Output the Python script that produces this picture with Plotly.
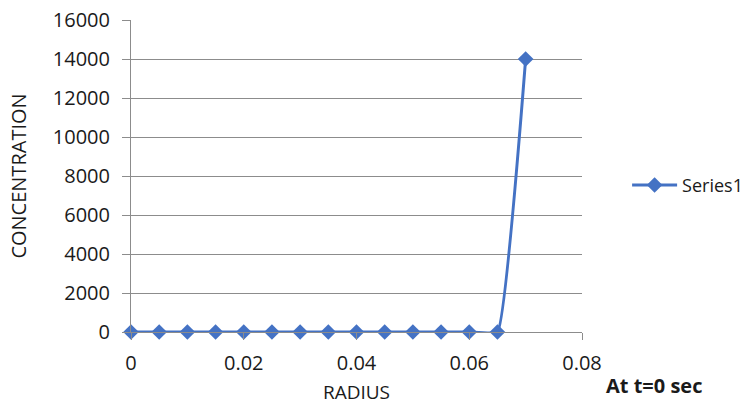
import plotly.graph_objects as go

# Radius (m) and concentration at t = 0 s
radius = [0, 0.005, 0.01, 0.015, 0.02, 0.025, 0.03, 0.035, 0.04, 0.045, 0.05, 0.055, 0.06, 0.065, 0.07]
concentration = [0, 0, 0, 0, 0, 0, 0, 0, 0, 0, 0, 0, 0, 0, 14000]

x_ticks = [0, 0.02, 0.04, 0.06, 0.08]
x_tick_text = ["0", "0.02", "0.04", "0.06", "0.08"]
y_ticks = [0, 2000, 4000, 6000, 8000, 10000, 12000, 14000, 16000]

blue = "#4472C4"
grey = "#8C8C8C"
font = "Open Sans, Liberation Sans, sans-serif"

fig = go.Figure()
fig.add_trace(go.Scatter(
    x=radius, y=concentration, name="Series1",
    mode="lines+markers", cliponaxis=False,
    line=dict(color=blue, width=3, shape="spline", smoothing=0.3),
    marker=dict(symbol="diamond", size=12, color=blue),
))

fig.update_layout(
    width=751, height=405,
    margin=dict(l=131, r=169, t=20, b=73, autoexpand=False),
    paper_bgcolor="white", plot_bgcolor="white",
    font=dict(family=font, size=19, color="#1a1a1a"),
    showlegend=True,
    legend=dict(x=1.10, y=0.47, xanchor="left", yanchor="middle",
                itemwidth=45,
                font=dict(size=18), bgcolor="rgba(0,0,0,0)"),
    xaxis=dict(
        range=[0, 0.08], tickvals=x_ticks, ticktext=x_tick_text,
        showgrid=False, zeroline=False, automargin=False,
        showline=True, linecolor=grey, linewidth=1,
        ticks="outside", ticklen=7, tickcolor=grey,
        ticklabelstandoff=6,
        tickfont=dict(size=20),
        title=dict(text="RADIUS", font=dict(size=19), standoff=16),
    ),
    yaxis=dict(
        range=[0, 16000], tickvals=y_ticks, tickformat="d",
        showgrid=True, gridcolor=grey, gridwidth=1,
        zeroline=False, automargin=False,
        showline=True, linecolor=grey, linewidth=1,
        ticks="outside", ticklen=8, tickcolor=grey,
        ticklabelstandoff=8,
        tickfont=dict(size=20),
        title=dict(text="CONCENTRATION", font=dict(size=20), standoff=20),
    ),
    annotations=[dict(
        text="<b>At t=0 sec</b>", xref="paper", yref="paper",
        x=1.048, y=-0.173, xanchor="left", yanchor="middle",
        showarrow=False, font=dict(size=20),
    )],
)

fig.write_html("out.html")
